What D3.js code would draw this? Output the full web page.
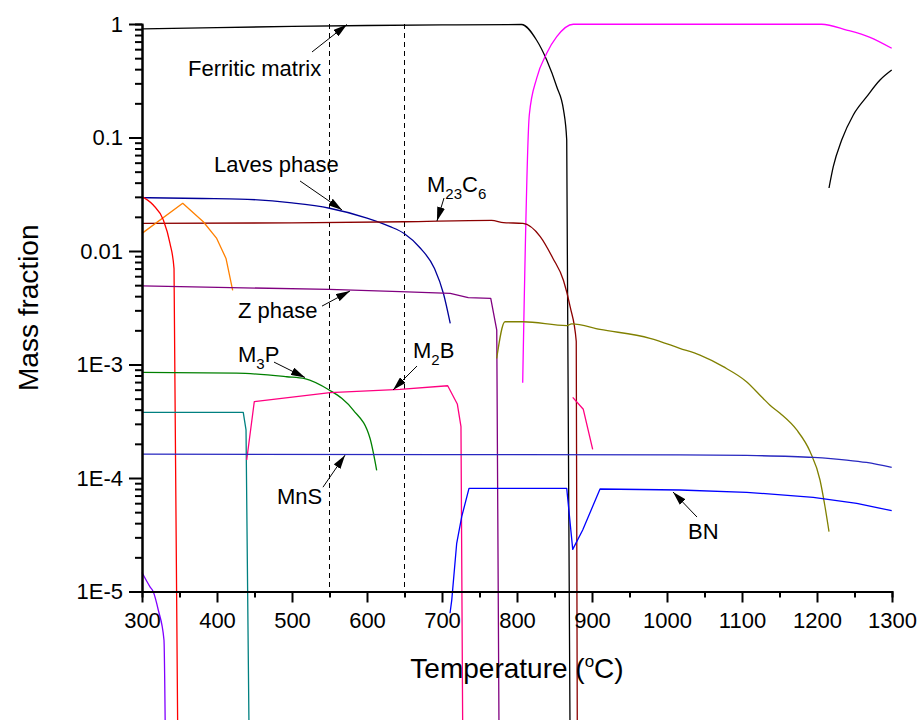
<!DOCTYPE html>
<html>
<head>
<meta charset="utf-8">
<script src="https://cdn.jsdelivr.net/npm/d3@7"></script>
<style>
  html, body { margin: 0; padding: 0; background: #fff; }
  svg { display: block; font-family: "Liberation Sans", Arial, sans-serif; }
</style>
</head>
<body>
<svg id="chart" width="919" height="720"></svg>
<script>
// ---- data (temperature in °C, mass fraction) ----
const DROP = 6e-7; // phase vanishes: line runs off the bottom

const xTicks = [300, 400, 500, 600, 700, 800, 900, 1000, 1100, 1200, 1300];
const xMinorTicks = [350, 450, 550, 650, 750, 850, 950, 1050, 1150, 1250];
const yTicks = [1, 0.1, 0.01, 1e-3, 1e-4, 1e-5];
const yTickLabels = ["1", "0.1", "0.01", "1E-3", "1E-4", "1E-5"];
const dashedTemps = [550, 650];

const ferritic = [[300,0.904],[400,0.93],[500,0.952],[600,0.97],[700,0.982],[806,0.99],[826,0.723],[839.6,0.482],[853,0.28],[862,0.175],[866.3,0.095],[870.7,DROP]];
const ferritic2 = [[1216,0.0359],[1221.7,0.0553],[1232.9,0.095],[1248.4,0.158],[1266.3,0.229],[1284,0.321],[1299.6,0.393]];
const austenite = [[807.6,6.9e-4],[816.4,0.158],[826.2,0.332],[839.6,0.552],[853,0.773],[875,0.995],[1206,0.995],[1239.6,0.885],[1270.7,0.763],[1299.6,0.611]];
const laves = [[300,0.0295],[380,0.029],[430,0.0287],[500,0.0265],[550,0.0238],[600,0.0195],[630,0.0165],[650,0.0142],[670,0.0108],[690,0.0070],[702,0.0042],[711,0.0023]];
const m23c6 = [[300,0.0175],[500,0.0177],[650,0.0181],[766,0.0186],[782,0.0178],[808,0.0175],[831,0.0134],[848,0.0086],[862,0.0055],[871,0.0032],[879,0.0016],[880.4,DROP]];
const orangePhase = [[300,0.0143],[354.3,0.0263],[381.7,0.0181],[399.6,0.0129],[412,0.0086],[420.9,0.0045]];
const redPhase = [[300,0.0301],[315,0.0254],[328.4,0.0188],[337.3,0.0117],[342.7,0.0070],[347.6,DROP]];
const zPhase = [[300,0.00492],[550,0.00459],[644,0.00438],[711,0.00424],[735,0.00388],[765,0.00383],[773,0.00201],[776,DROP]];
const olivePhase = [[772.9,0.00113],[784,0.00238],[808.4,0.00238],[866.3,0.0022],[872.9,0.00228],[910.7,0.00204],[977.3,0.0017],[1017,0.00139],[1044,0.00121],[1075,9.57e-4],[1106,7.06e-4],[1128,5.04e-4],[1137,4.4e-4],[1150.7,3.72e-4],[1173,2.65e-4],[1190.7,1.71e-4],[1204,9.6e-5],[1210.7,5.58e-5],[1216,3.37e-5]];
const m3p = [[300,8.53e-4],[426,8.4e-4],[493,7.8e-4],[517,7.5e-4],[550.7,5.9e-4],[566.3,5.03e-4],[581.7,3.97e-4],[604,2.24e-4],[612.9,1.17e-4]];
const tealPhase = [[300,3.79e-4],[435,3.79e-4],[438.7,2.65e-4],[442.7,DROP]];
const m2b = [[439.6,1.44e-4],[449.7,4.7e-4],[550.7,5.65e-4],[644,6.04e-4],[707.6,6.5e-4],[720.4,4.49e-4],[725.3,2.83e-4],[727.6,DROP]];
const m2b2 = [[874.3,5.14e-4],[888.4,4.03e-4],[900.9,1.79e-4]];
const mns = [[300,1.62e-4],[700,1.61e-4],[1017,1.6e-4],[1106,1.58e-4],[1195,1.52e-4],[1239.6,1.44e-4],[1266,1.37e-4],[1299.6,1.24e-4]];
const bn = [[710.7,6.43e-6],[713,8.4e-6],[719.6,2.66e-5],[726.3,4.56e-5],[736,8.11e-5],[866.3,8.11e-5],[874.3,2.35e-5],[887.6,3.48e-5],[910.7,8.0e-5],[1017.3,7.84e-5],[1106.3,7.48e-5],[1195,6.76e-5],[1253,5.98e-5],[1299.6,5.15e-5]];
const violetPhase = [[300,1.47e-5],[310.7,1.1e-5],[315,9.96e-6],[321.7,6.87e-6],[329.3,3.74e-6],[331,DROP]];

const series = [
  {data: ferritic, color: "#000000", smooth: true},
  {data: ferritic2, color: "#000000", smooth: true},
  {data: austenite, color: "#FF00FF", smooth: true},
  {data: laves, color: "#000099", smooth: true},
  {data: m23c6, color: "#8B0000", smooth: true},
  {data: orangePhase, color: "#FF8000", smooth: false},
  {data: redPhase, color: "#FF0000", smooth: true},
  {data: zPhase, color: "#800080", smooth: false},
  {data: olivePhase, color: "#808000", smooth: true},
  {data: m3p, color: "#008000", smooth: true},
  {data: tealPhase, color: "#008080", smooth: false},
  {data: m2b, color: "#FF0080", smooth: false},
  {data: m2b2, color: "#FF0080", smooth: false},
  {data: mns, color: "#2828C0", smooth: true},
  {data: bn, color: "#0000FF", smooth: false},
  {data: violetPhase, color: "#8000FF", smooth: true}
];

// annotations: label text parts, label anchor (T, v), arrow start and tip (T, v)
const annotations = [
  {parts: [["Ferritic matrix", 0]], at: [361.3, 0.348], from: [526.7, 0.567], to: [573.3, 0.99]},
  {parts: [["Laves phase", 0]], at: [396, 0.0497], from: [510.7, 0.0414], to: [566.7, 0.023]},
  {parts: [["M", 0], ["23", 1], ["C", 0], ["6", 1]], at: [680, 0.0331], from: [702.7, 0.0293], to: [693.3, 0.0184]},
  {parts: [["Z phase", 0]], at: [428, 0.00257], from: [540, 0.00327], to: [577.3, 0.00444]},
  {parts: [["M", 0], ["3", 1], ["P", 0]], at: [428, 0.00105], from: [476, 0.00105], to: [517.3, 7.68e-4]},
  {parts: [["M", 0], ["2", 1], ["B", 0]], at: [661.3, 0.00114], from: [666.7, 9.7e-4], to: [634.7, 5.96e-4]},
  {parts: [["MnS", 0]], at: [480, 5.9e-5], from: [541.3, 8.3e-5], to: [570.7, 1.59e-4]},
  {parts: [["BN", 0]], at: [1028, 2.9e-5], from: [1040, 4.53e-5], to: [1008, 7.53e-5]}
];

// ---- drawing ----
const svg = d3.select("#chart");
const margin = {left: 142, right: 27, top: 24, bottom: 128.5};
const W = 919, H = 720;
const x = d3.scaleLinear().domain([300, 1300]).range([margin.left, W - margin.right]);
const y = d3.scaleLog().domain([1e-5, 1]).range([H - margin.bottom, margin.top]);

const yMinor = [];
for (let e = -5; e < 0; e++) for (let m = 2; m <= 9; m++) yMinor.push(m * Math.pow(10, e));

// dashed reference lines
svg.append("g").selectAll("line").data(dashedTemps).join("line")
  .attr("x1", d => x(d)).attr("x2", d => x(d))
  .attr("y1", y(1)).attr("y2", y(1e-5))
  .attr("stroke", "#000").attr("stroke-width", 1)
  .attr("stroke-dasharray", "5,4");

// series lines
const lineSmooth = d3.line().x(d => x(d[0])).y(d => y(d[1])).curve(d3.curveMonotoneX);
const lineStraight = d3.line().x(d => x(d[0])).y(d => y(d[1]));
svg.append("g").selectAll("path").data(series).join("path")
  .attr("d", d => (d.smooth ? lineSmooth : lineStraight)(d.data))
  .attr("fill", "none")
  .attr("stroke", d => d.color)
  .attr("stroke-width", 1.3)
  .attr("stroke-linejoin", "round");

// axes
const fontTick = 22;
const yAxisG = svg.append("g").attr("transform", `translate(${margin.left},0)`);
yAxisG.call(d3.axisLeft(y).tickValues(yMinor).tickSize(7).tickFormat(""));
yAxisG.append("g").call(d3.axisLeft(y).tickValues(yTicks).tickSize(13).tickSizeOuter(0).tickPadding(6)
  .tickFormat((d, i) => yTickLabels[i]));
const xAxisG = svg.append("g").attr("transform", `translate(0,${y(1e-5)})`);
xAxisG.call(d3.axisBottom(x).tickValues(xMinorTicks).tickSize(6).tickFormat(""));
xAxisG.append("g").call(d3.axisBottom(x).tickValues(xTicks).tickSize(11).tickSizeOuter(0).tickPadding(10)
  .tickFormat(d3.format("d")));

svg.selectAll(".domain").attr("stroke", "#000").attr("stroke-width", 2);
svg.selectAll(".tick line").attr("stroke", "#000").attr("stroke-width", 2);
svg.selectAll(".tick text").attr("font-size", fontTick).attr("fill", "#000")
  .attr("font-family", "'Liberation Sans', Arial, sans-serif");

// axis titles
svg.append("text")
  .attr("transform", `translate(38,${(y(1) + y(1e-5)) / 2}) rotate(-90)`)
  .attr("text-anchor", "middle").attr("font-size", 28).attr("fill", "#000")
  .text("Mass fraction");
const xt = svg.append("text")
  .attr("x", (x(300) + x(1300)) / 2).attr("y", 678)
  .attr("text-anchor", "middle").attr("font-size", 28).attr("fill", "#000");
xt.append("tspan").text("Temperature (");
xt.append("tspan").attr("font-size", 17).attr("dy", -11).text("o");
xt.append("tspan").attr("dy", 11).text("C)");

// arrow marker
svg.append("defs").append("marker")
  .attr("id", "arrow").attr("markerUnits", "userSpaceOnUse")
  .attr("viewBox", "0 0 14 8").attr("refX", 14).attr("refY", 4)
  .attr("markerWidth", 14).attr("markerHeight", 8).attr("orient", "auto")
  .append("path").attr("d", "M0,0 L14,4 L0,8 Z").attr("fill", "#000");

const annG = svg.append("g");
annotations.forEach(a => {
  annG.append("line")
    .attr("x1", x(a.from[0])).attr("y1", y(a.from[1]))
    .attr("x2", x(a.to[0])).attr("y2", y(a.to[1]))
    .attr("stroke", "#000").attr("stroke-width", 1)
    .attr("marker-end", "url(#arrow)");
  const t = annG.append("text")
    .attr("x", x(a.at[0])).attr("y", y(a.at[1]))
    .attr("font-size", 22).attr("fill", "#000");
  let sub = 0;
  a.parts.forEach(([s, isSub]) => {
    const dy = (isSub ? 7 : 0) - sub;
    sub = isSub ? 7 : 0;
    t.append("tspan").attr("dy", dy).attr("font-size", isSub ? 15 : 22).text(s);
  });
});
</script>
</body>
</html>
